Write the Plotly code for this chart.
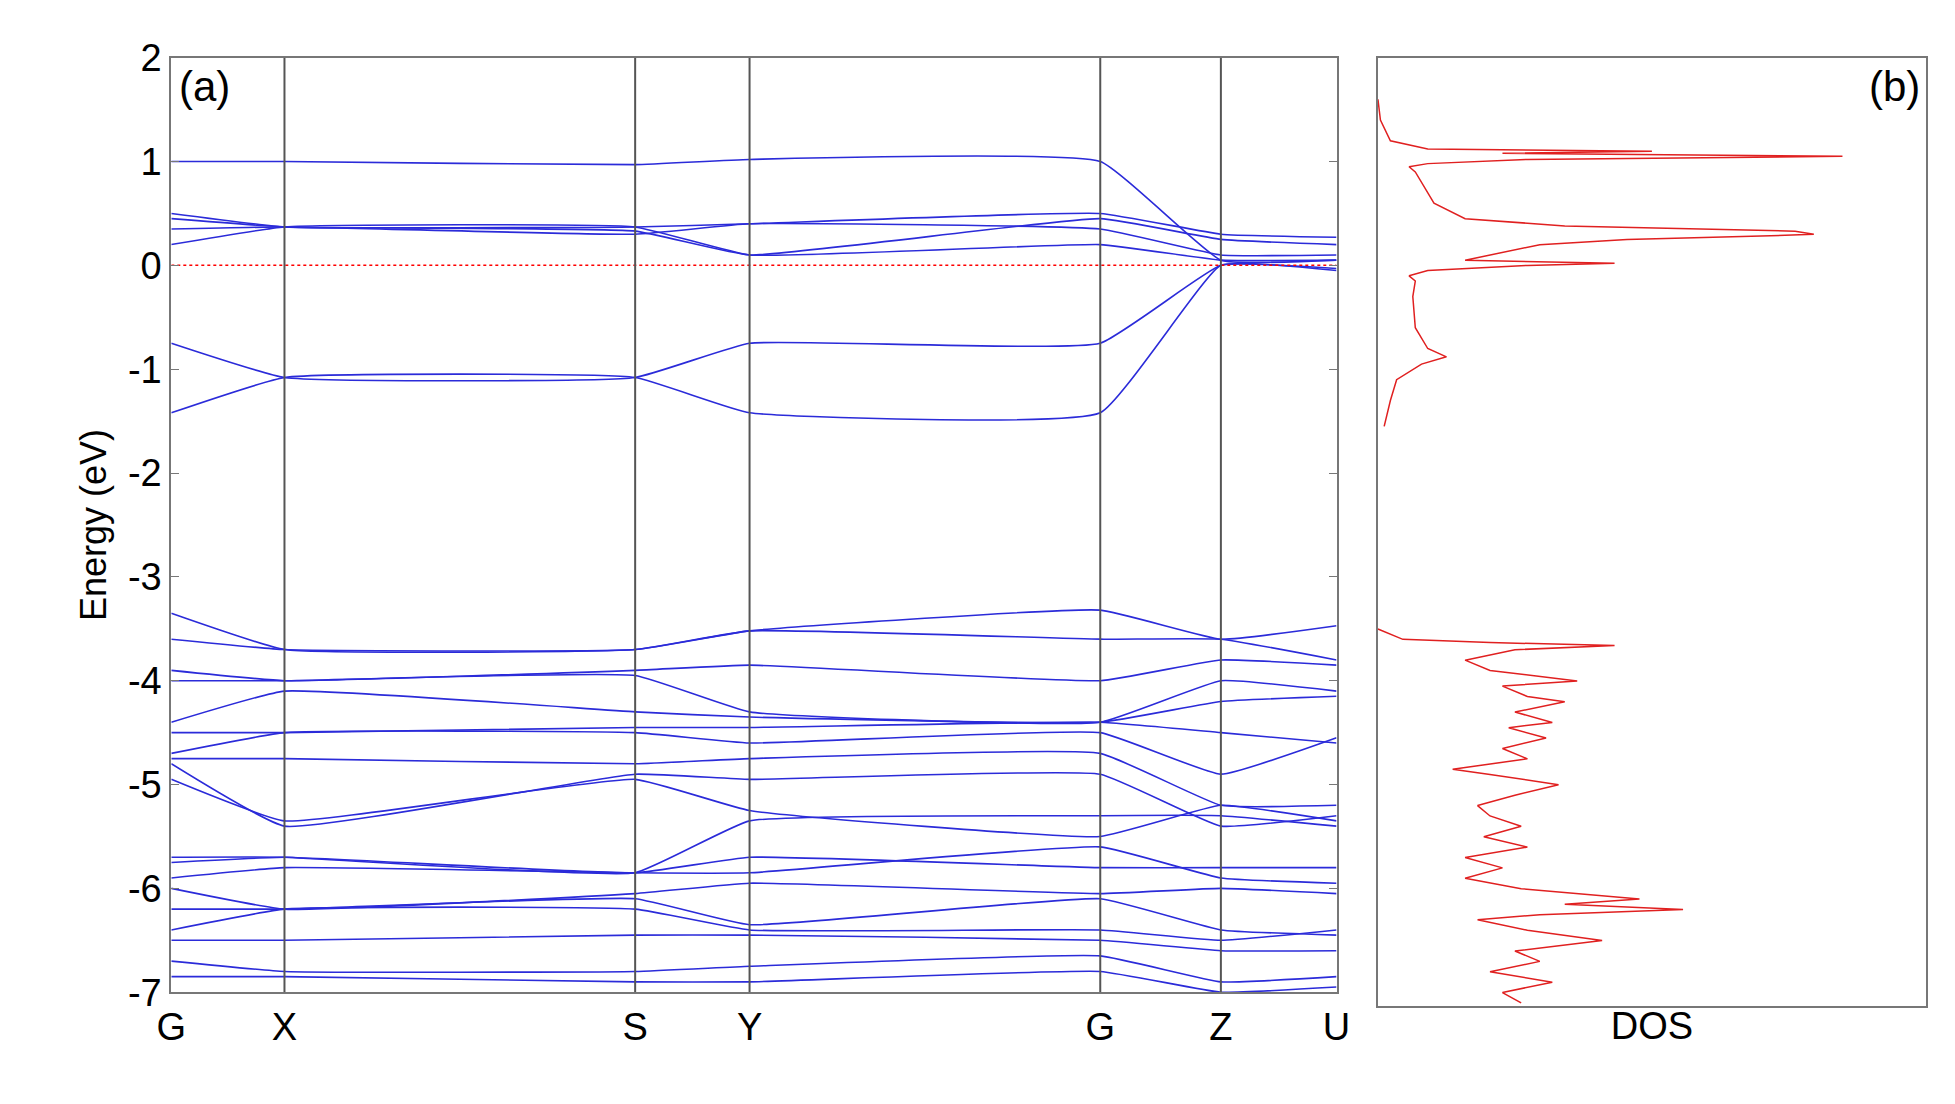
import plotly.graph_objects as go

kpos = [0, 91, 373, 465, 747, 844, 937]
klabels = ["G", "X", "S", "Y", "G", "Z", "U"]
yticks = [2, 1, 0, -1, -2, -3, -4, -5, -6, -7]
yticklabels = ["2", "1", "0", "-1", "-2", "-3", "-4", "-5", "-6", "-7"]

bands = [
    [1.0, 1.0, 0.97, 1.02, 1.0, 0.05, 0.05],
    [0.5, 0.37, 0.37, 0.4, 0.5, 0.3, 0.27],
    [0.45, 0.37, 0.33, 0.1, 0.45, 0.25, 0.2],
    [0.35, 0.37, 0.3, 0.4, 0.35, 0.1, 0.1],
    [0.2, 0.37, 0.37, 0.1, 0.2, 0.05, 0.05],
    [-0.75, -1.08, -1.08, -0.75, -0.75, 0.0, -0.03],
    [-1.42, -1.08, -1.08, -1.42, -1.42, 0.0, -0.05],
    [-3.35, -3.7, -3.7, -3.52, -3.32, -3.6, -3.47],
    [-3.6, -3.7, -3.7, -3.52, -3.6, -3.6, -3.8],
    [-3.9, -4.0, -3.9, -3.85, -4.0, -3.8, -3.85],
    [-4.0, -4.0, -3.95, -4.3, -4.4, -4.0, -4.1],
    [-4.4, -4.1, -4.3, -4.35, -4.4, -4.2, -4.15],
    [-4.5, -4.5, -4.45, -4.45, -4.4, -4.5, -4.6],
    [-4.7, -4.5, -4.5, -4.6, -4.5, -4.9, -4.55],
    [-4.75, -4.75, -4.8, -4.75, -4.7, -5.2, -5.2],
    [-4.8, -5.4, -4.9, -4.95, -4.9, -5.4, -5.3],
    [-4.95, -5.35, -4.95, -5.25, -5.5, -5.2, -5.35],
    [-5.7, -5.7, -5.85, -5.35, -5.3, -5.3, -5.4],
    [-5.75, -5.7, -5.85, -5.7, -5.8, -5.8, -5.8],
    [-5.9, -5.8, -5.85, -5.85, -5.6, -5.9, -5.95],
    [-6.0, -6.2, -6.05, -5.95, -6.05, -6.0, -6.05],
    [-6.2, -6.2, -6.1, -6.35, -6.1, -6.4, -6.45],
    [-6.4, -6.2, -6.2, -6.4, -6.4, -6.5, -6.4],
    [-6.5, -6.5, -6.45, -6.45, -6.5, -6.6, -6.6],
    [-6.7, -6.8, -6.8, -6.75, -6.65, -6.9, -6.85],
    [-6.85, -6.85, -6.9, -6.9, -6.8, -7.0, -6.95],
]

dos_E = [1.6, 1.4, 1.2, 1.12, 1.1, 1.08, 1.05, 1.02, 0.98, 0.95, 0.9, 0.8, 0.6, 0.45, 0.38,
         0.33, 0.3, 0.28, 0.25, 0.2, 0.1, 0.05, 0.02, 0.0, -0.05, -0.1, -0.15, -0.3, -0.6,
         -0.8, -0.88, -0.95, -1.1, -1.3, -1.55, None,
         -3.5, -3.6, -3.63, -3.66, -3.7, -3.8, -3.9, -4.0, -4.05, -4.15, -4.2, -4.3, -4.4,
         -4.45, -4.55, -4.65, -4.75, -4.85, -4.9, -5.0, -5.1, -5.2, -5.3, -5.4, -5.5, -5.6,
         -5.7, -5.8, -5.9, -6.0, -6.1, -6.15, -6.2, -6.25, -6.3, -6.4, -6.5, -6.6, -6.7,
         -6.8, -6.9, -7.0, -7.1]
dos_D = [0, 2, 10, 40, 220, 100, 373, 120, 40, 25, 30, 35, 45, 70, 150,
         335, 350, 300, 200, 130, 90, 70, 190, 120, 40, 25, 30, 28, 30,
         40, 55, 35, 15, 10, 5, None,
         0, 20, 90, 190, 110, 70, 90, 160, 100, 120, 150, 110, 140,
         105, 135, 100, 120, 60, 90, 145, 110, 80, 90, 115, 85, 120,
         70, 100, 70, 115, 210, 150, 245, 130, 80, 120, 180, 110, 130,
         90, 140, 100, 115]

fig = go.Figure()
for b in bands:
    fig.add_trace(go.Scatter(x=kpos, y=b, mode="lines", line=dict(color="#2b2bd9", width=1.6, shape="spline", smoothing=0.35),
                             showlegend=False, xaxis="x", yaxis="y"))
fig.add_trace(go.Scatter(x=[kpos[0], kpos[-1]], y=[0, 0], mode="lines", line=dict(color="red", width=1.5, dash="dot"),
                         showlegend=False))
fig.add_trace(go.Scatter(x=dos_D, y=dos_E, mode="lines", line=dict(color="#e02020", width=1.5),
                         showlegend=False, xaxis="x2", yaxis="y2", connectgaps=False))

shapes = []
for k in kpos[1:-1]:
    shapes.append(dict(type="line", xref="x", yref="y", x0=k, x1=k, y0=-7, y1=2, line=dict(color="#555", width=2)))

font = dict(family="Liberation Sans, Arial", size=38, color="black")
fig.update_layout(
    width=1955, height=1104, margin=dict(l=0, r=0, t=0, b=0),
    paper_bgcolor="white", plot_bgcolor="white", font=font, shapes=shapes,
    xaxis=dict(domain=[0.077, 0.682], range=[0, 937], tickvals=kpos, ticktext=klabels, showgrid=False,
               zeroline=False, showline=True, linecolor="#777", linewidth=2, mirror=True, ticks=""),
    yaxis=dict(domain=[0.093, 0.973], range=[-7, 2], tickvals=yticks, ticktext=yticklabels, showgrid=False,
               zeroline=False, showline=True,
               linecolor="#777", linewidth=2, mirror="allticks", ticks="inside", ticklen=8, tickcolor="#777",
               title=dict(text="Energy (eV)", font=dict(size=36), standoff=10)),
    xaxis2=dict(domain=[0.7035, 0.988], range=[0, 440], anchor="y2", showticklabels=False, showgrid=False,
                zeroline=False, showline=True, linecolor="#777", linewidth=2, mirror=True, ticks="",
                title=dict(text="DOS", font=dict(size=38), standoff=5)),
    yaxis2=dict(domain=[0.080, 0.973], range=[-7.13, 2], anchor="x2", showticklabels=False, showgrid=False,
                zeroline=False, showline=True, linecolor="#777", linewidth=2, mirror=True, ticks=""),
    annotations=[
        dict(text="(a)", xref="paper", yref="paper", x=0.08, y=0.97, xanchor="left", yanchor="top", showarrow=False, font=dict(size=42)),
        dict(text="(b)", xref="paper", yref="paper", x=0.986, y=0.97, xanchor="right", yanchor="top", showarrow=False, font=dict(size=42)),
    ],
)
fig.write_html("out.html")
